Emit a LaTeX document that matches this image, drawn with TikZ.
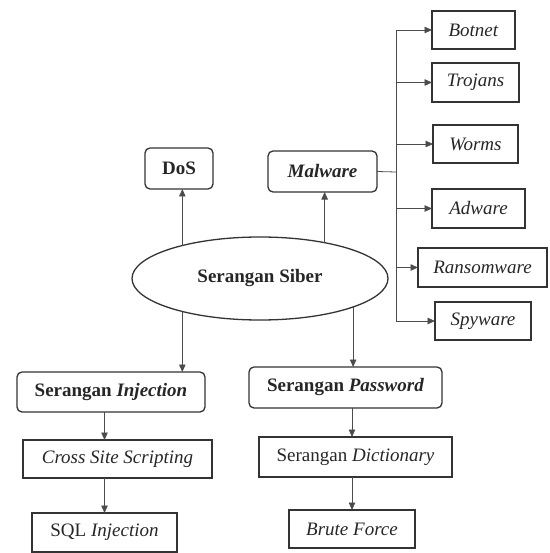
\documentclass[tikz,border=0pt]{standalone}
\usepackage{fontspec}
\setmainfont{Liberation Serif}
\usetikzlibrary{shapes.geometric,arrows.meta}
\begin{document}
\begin{tikzpicture}[x=1pt,y=1pt]
                \tikzstyle{every node}+=[inner sep=0pt, outer sep=0pt, text=black!85, font=\fontsize{19}{22}\selectfont]
                \tikzstyle{kotak}=[draw=black!80, line width=1.3pt, rectangle]
                \tikzstyle{bulat}=[kotak, rounded corners=5pt]
                \tikzstyle{panah}=[draw=black!70, line width=0.8pt, -{Triangle[length=7.5pt,width=6.5pt]}]
                \useasboundingbox (0,0) rectangle (549,-553);
                \node [draw=black!80, line width=1.3pt, ellipse, minimum width=256, minimum height=83] (siber) at (260,-278.5) {\textbf{Serangan Siber}};
                \node [bulat, minimum width=68, minimum height=41] (dos) at (179,-168.5) {\textbf{DoS}};
                \node [bulat, minimum width=109, minimum height=41] (malware) at (322.5,-171.5) {\textbf{\textit{Malware}}};
                \node [kotak, minimum width=83, minimum height=38] (botnet) at (473.5,-30) {\textit{Botnet}};
                \node [kotak, minimum width=87, minimum height=39] (trojans) at (475.5,-82.5) {\textit{Trojans}};
                \node [kotak, minimum width=85, minimum height=38] (worms) at (475.5,-144) {\textit{Worms}};
                \node [kotak, minimum width=93, minimum height=39] (adware) at (478.5,-208.5) {\textit{Adware}};
                \node [kotak, minimum width=129, minimum height=39] (ransom) at (482.5,-267.5) {\textit{Ransomware}};
                \node [kotak, minimum width=96, minimum height=38] (spyware) at (483,-321) {\textit{Spyware}};
                \node [bulat, minimum width=188, minimum height=40] (inj) at (111,-392) {\textbf{Serangan \textit{Injection}}};
                \node [kotak, minimum width=189, minimum height=38] (xss) at (117.5,-459) {\textit{Cross Site Scripting}};
                \node [kotak, minimum width=145, minimum height=39] (sqli) at (104.5,-532.5) {SQL \textit{Injection}};
                \node [bulat, minimum width=193, minimum height=41] (pass) at (345.5,-387.5) {\textbf{Serangan \textit{Password}}};
                \node [kotak, minimum width=193, minimum height=40] (dict) at (355.5,-457) {Serangan \textit{Dictionary}};
                \node [kotak, minimum width=126, minimum height=38] (brute) at (352,-529) {\textit{Brute Force}};
                % dari elips
                \draw [panah] (siber.157) -- (siber.157 |- dos.south);
                \draw [panah] (siber.29) -- (siber.29 |- malware.south);
                \draw [panah] (siber.203) -- (siber.203 |- inj.north);
                \draw [panah] (siber.-17) -- (siber.-17 |- pass.north);
                % cabang malware
                \coordinate (trunk) at (396,-172);
                \draw [draw=black!70, line width=0.8pt] (malware.east) -- (trunk);
                \draw [panah] (trunk) |- (botnet.west);
                \draw [panah] (trunk) |- (trojans.west);
                \draw [panah] (trunk) |- (worms.west);
                \draw [panah] (trunk) |- (adware.west);
                \draw [panah] (trunk) |- (ransom.west);
                \draw [panah] (trunk) |- (spyware.west);
                % turunan
                \draw [panah] (inj.south -| sqli.north) -- (xss.north -| sqli.north);
                \draw [panah] (xss.south -| sqli.north) -- (sqli.north);
                \draw [panah] (pass.south -| brute.north) -- (dict.north -| brute.north);
                \draw [panah] (dict.south -| brute.north) -- (brute.north);
            \end{tikzpicture}
\end{document}
